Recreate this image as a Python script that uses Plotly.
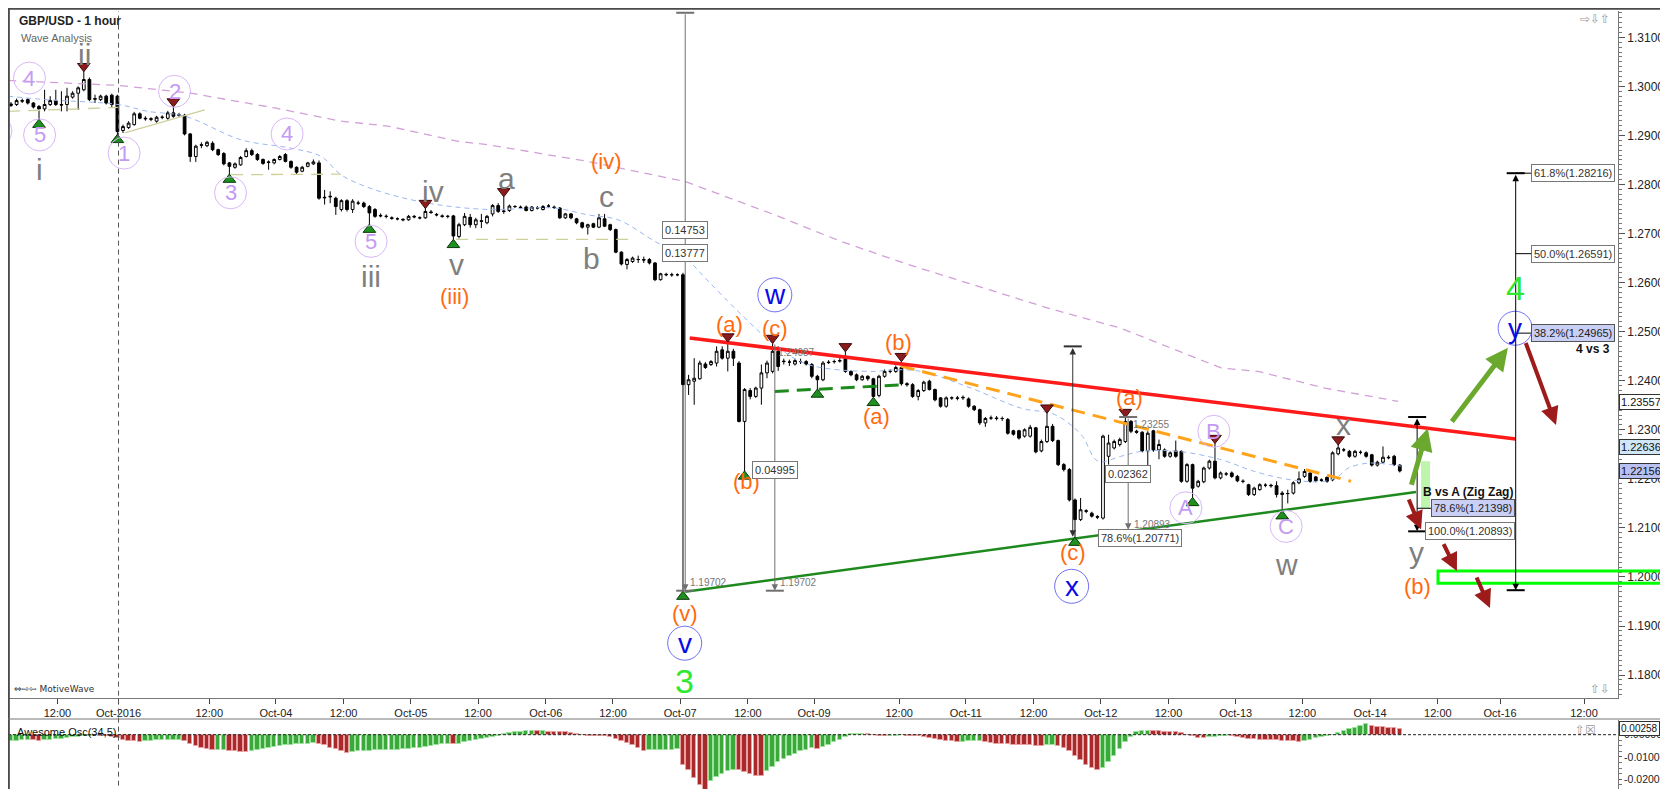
import plotly.graph_objects as go

# ---- hourly candles, bar index 0 = first visible bar ----
opens = [
    1.2961, 1.2963, 1.2971, 1.2973, 1.2966, 1.2959, 1.2954, 1.2963, 1.2971, 1.2963,
    1.2963, 1.2978, 1.2986, 1.2993, 1.3014, 1.2975, 1.2973, 1.2980, 1.2982, 1.2980,
    1.2910, 1.2916, 1.2922, 1.2944, 1.2935, 1.2934, 1.2929, 1.2937, 1.2935, 1.2946,
    1.2942, 1.2941, 1.2903, 1.2857, 1.2881, 1.2879, 1.2884, 1.2871, 1.2863, 1.2844,
    1.2835, 1.2840, 1.2857, 1.2869, 1.2861, 1.2851, 1.2846, 1.2844, 1.2851, 1.2861,
    1.2847, 1.2835, 1.2827, 1.2837, 1.2842, 1.2844, 1.2774, 1.2776, 1.2772, 1.2749,
    1.2767, 1.2749, 1.2762, 1.2762, 1.2755, 1.2749, 1.2737, 1.2735, 1.2732, 1.2730,
    1.2729, 1.2728, 1.2735, 1.2732, 1.2732, 1.2744, 1.2739, 1.2736, 1.2735, 1.2736,
    1.2694, 1.2718, 1.2733, 1.2718, 1.2726, 1.2722, 1.2740, 1.2757, 1.2746, 1.2747,
    1.2755, 1.2754, 1.2754, 1.2747, 1.2752, 1.2749, 1.2756, 1.2754, 1.2752, 1.2732,
    1.2740, 1.2730, 1.2722, 1.2713, 1.2720, 1.2713, 1.2730, 1.2718, 1.2708, 1.2662,
    1.2637, 1.2643, 1.2647, 1.2647, 1.2647, 1.2640, 1.2606, 1.2617, 1.2616, 1.2616,
    1.2616, 1.2392, 1.2399, 1.2404, 1.2434, 1.2433, 1.2436, 1.2463, 1.2446, 1.2460,
    1.2436, 1.2317, 1.2380, 1.2368, 1.2385, 1.2416, 1.2419, 1.2460, 1.2440, 1.2438,
    1.2434, 1.2439, 1.2439, 1.2433, 1.2409, 1.2402, 1.2438, 1.2439, 1.2440, 1.2446,
    1.2419, 1.2412, 1.2402, 1.2409, 1.2404, 1.2370, 1.2409, 1.2419, 1.2419, 1.2427,
    1.2394, 1.2392, 1.2368, 1.2380, 1.2399, 1.2382, 1.2365, 1.2348, 1.2365, 1.2365,
    1.2365, 1.2363, 1.2348, 1.2341, 1.2314, 1.2324, 1.2324, 1.2323, 1.2321, 1.2298,
    1.2298, 1.2287, 1.2287, 1.2304, 1.2257, 1.2276, 1.2307, 1.2278, 1.2229, 1.2219,
    1.2157, 1.2117, 1.2135, 1.2130, 1.2123, 1.2120, 1.2246, 1.2263, 1.2270, 1.2276,
    1.2317, 1.2297, 1.2295, 1.2257, 1.2298, 1.2259, 1.2259, 1.2246, 1.2257, 1.2256,
    1.2195, 1.2229, 1.2185, 1.2194, 1.2222, 1.2236, 1.2202, 1.2210, 1.2212, 1.2205,
    1.2195, 1.2188, 1.2168, 1.2178, 1.2187, 1.2187, 1.2186, 1.2168, 1.2170, 1.2171,
    1.2192, 1.2205, 1.2212, 1.2204, 1.2198, 1.2203, 1.2198, 1.2251, 1.2259, 1.2256,
    1.2246, 1.2254, 1.2253, 1.2249, 1.2228, 1.2234, 1.2244, 1.2246, 1.2228,
]
highs = [
    1.2968, 1.2975, 1.2975, 1.2976, 1.2968, 1.2962, 1.2993, 1.2980, 1.2993, 1.2990,
    1.2997, 1.2990, 1.3000, 1.3031, 1.3018, 1.2983, 1.2983, 1.2983, 1.2985, 1.2983,
    1.2922, 1.2929, 1.2948, 1.2947, 1.2939, 1.2937, 1.2940, 1.2941, 1.2950, 1.2959,
    1.2946, 1.2944, 1.2905, 1.2881, 1.2886, 1.2889, 1.2888, 1.2873, 1.2866, 1.2846,
    1.2845, 1.2858, 1.2874, 1.2873, 1.2864, 1.2853, 1.2849, 1.2853, 1.2860, 1.2864,
    1.2849, 1.2837, 1.2838, 1.2846, 1.2851, 1.2849, 1.2789, 1.2786, 1.2775, 1.2770,
    1.2770, 1.2770, 1.2767, 1.2765, 1.2758, 1.2752, 1.2741, 1.2739, 1.2735, 1.2733,
    1.2731, 1.2738, 1.2738, 1.2735, 1.2752, 1.2748, 1.2742, 1.2739, 1.2738, 1.2738,
    1.2722, 1.2742, 1.2740, 1.2732, 1.2740, 1.2738, 1.2760, 1.2762, 1.2776, 1.2759,
    1.2758, 1.2757, 1.2757, 1.2756, 1.2756, 1.2758, 1.2760, 1.2757, 1.2754, 1.2742,
    1.2742, 1.2732, 1.2724, 1.2720, 1.2722, 1.2740, 1.2740, 1.2720, 1.2710, 1.2664,
    1.2650, 1.2653, 1.2655, 1.2653, 1.2650, 1.2642, 1.2620, 1.2620, 1.2620, 1.2619,
    1.2620, 1.2412, 1.2446, 1.2441, 1.2438, 1.2442, 1.2470, 1.2470, 1.2480, 1.2465,
    1.2440, 1.2385, 1.2385, 1.2388, 1.2433, 1.2441, 1.2477, 1.2470, 1.2445, 1.2443,
    1.2445, 1.2445, 1.2442, 1.2436, 1.2412, 1.2440, 1.2442, 1.2443, 1.2446, 1.2460,
    1.2421, 1.2415, 1.2412, 1.2411, 1.2406, 1.2412, 1.2423, 1.2423, 1.2431, 1.2440,
    1.2397, 1.2395, 1.2383, 1.2400, 1.2402, 1.2384, 1.2367, 1.2368, 1.2368, 1.2369,
    1.2370, 1.2366, 1.2350, 1.2343, 1.2326, 1.2329, 1.2328, 1.2327, 1.2324, 1.2300,
    1.2300, 1.2303, 1.2310, 1.2306, 1.2280, 1.2335, 1.2312, 1.2280, 1.2232, 1.2222,
    1.2160, 1.2161, 1.2138, 1.2133, 1.2126, 1.2290, 1.2290, 1.2280, 1.2284, 1.2326,
    1.2320, 1.2300, 1.2297, 1.2297, 1.2300, 1.2280, 1.2262, 1.2256, 1.2278, 1.2258,
    1.2232, 1.2231, 1.2198, 1.2225, 1.2239, 1.2273, 1.2215, 1.2214, 1.2215, 1.2208,
    1.2199, 1.2190, 1.2184, 1.2191, 1.2191, 1.2190, 1.2195, 1.2175, 1.2178, 1.2195,
    1.2215, 1.2220, 1.2215, 1.2206, 1.2201, 1.2205, 1.2256, 1.2270, 1.2263, 1.2259,
    1.2259, 1.2258, 1.2256, 1.2251, 1.2237, 1.2266, 1.2248, 1.2249, 1.2230,
]
lows = [
    1.2958, 1.2960, 1.2966, 1.2963, 1.2955, 1.2932, 1.2949, 1.2960, 1.2960, 1.2949,
    1.2949, 1.2975, 1.2952, 1.2990, 1.2970, 1.2966, 1.2970, 1.2963, 1.2956, 1.2901,
    1.2905, 1.2913, 1.2920, 1.2933, 1.2930, 1.2929, 1.2926, 1.2933, 1.2932, 1.2936,
    1.2938, 1.2900, 1.2846, 1.2846, 1.2874, 1.2876, 1.2868, 1.2858, 1.2839, 1.2820,
    1.2832, 1.2838, 1.2855, 1.2858, 1.2848, 1.2840, 1.2830, 1.2841, 1.2849, 1.2845,
    1.2832, 1.2820, 1.2825, 1.2835, 1.2840, 1.2769, 1.2759, 1.2762, 1.2738, 1.2745,
    1.2745, 1.2742, 1.2758, 1.2752, 1.2718, 1.2732, 1.2733, 1.2731, 1.2728, 1.2727,
    1.2725, 1.2726, 1.2731, 1.2729, 1.2730, 1.2740, 1.2735, 1.2732, 1.2731, 1.2687,
    1.2690, 1.2715, 1.2712, 1.2711, 1.2711, 1.2719, 1.2735, 1.2742, 1.2740, 1.2744,
    1.2752, 1.2750, 1.2745, 1.2745, 1.2749, 1.2747, 1.2752, 1.2750, 1.2730, 1.2730,
    1.2729, 1.2719, 1.2710, 1.2698, 1.2711, 1.2711, 1.2713, 1.2705, 1.2660, 1.2635,
    1.2627, 1.2640, 1.2640, 1.2640, 1.2637, 1.2603, 1.2604, 1.2613, 1.2612, 1.2613,
    1.1970, 1.2371, 1.2351, 1.2402, 1.2424, 1.2430, 1.2429, 1.2443, 1.2419, 1.2430,
    1.2315, 1.2215, 1.2362, 1.2365, 1.2351, 1.2405, 1.2415, 1.2420, 1.2433, 1.2430,
    1.2431, 1.2434, 1.2431, 1.2405, 1.2382, 1.2399, 1.2434, 1.2435, 1.2437, 1.2416,
    1.2409, 1.2399, 1.2400, 1.2400, 1.2365, 1.2366, 1.2406, 1.2415, 1.2416, 1.2390,
    1.2388, 1.2365, 1.2360, 1.2377, 1.2380, 1.2358, 1.2345, 1.2345, 1.2361, 1.2360,
    1.2361, 1.2345, 1.2338, 1.2310, 1.2306, 1.2320, 1.2319, 1.2318, 1.2290, 1.2288,
    1.2280, 1.2284, 1.2284, 1.2252, 1.2254, 1.2273, 1.2275, 1.2226, 1.2215, 1.2154,
    1.2080, 1.2114, 1.2130, 1.2121, 1.2118, 1.2117, 1.2229, 1.2260, 1.2266, 1.2273,
    1.2293, 1.2292, 1.2254, 1.2228, 1.2255, 1.2240, 1.2243, 1.2243, 1.2243, 1.2192,
    1.2192, 1.2161, 1.2182, 1.2191, 1.2219, 1.2199, 1.2199, 1.2206, 1.2202, 1.2193,
    1.2191, 1.2165, 1.2165, 1.2176, 1.2183, 1.2182, 1.2162, 1.2134, 1.2150, 1.2168,
    1.2189, 1.2202, 1.2192, 1.2193, 1.2194, 1.2192, 1.2195, 1.2248, 1.2255, 1.2243,
    1.2243, 1.2250, 1.2243, 1.2225, 1.2225, 1.2231, 1.2240, 1.2226, 1.2213,
]
closes = [
    1.2964, 1.2971, 1.2970, 1.2966, 1.2958, 1.2954, 1.2963, 1.2971, 1.2963, 1.2962,
    1.2980, 1.2986, 1.2997, 1.3014, 1.2973, 1.2974, 1.2980, 1.2966, 1.2963, 1.2908,
    1.2918, 1.2925, 1.2944, 1.2935, 1.2934, 1.2933, 1.2937, 1.2937, 1.2946, 1.2939,
    1.2941, 1.2903, 1.2857, 1.2878, 1.2880, 1.2886, 1.2871, 1.2861, 1.2842, 1.2837,
    1.2842, 1.2855, 1.2869, 1.2861, 1.2851, 1.2843, 1.2845, 1.2851, 1.2857, 1.2847,
    1.2835, 1.2825, 1.2835, 1.2844, 1.2846, 1.2772, 1.2773, 1.2775, 1.2755, 1.2767,
    1.2749, 1.2766, 1.2762, 1.2755, 1.2742, 1.2735, 1.2736, 1.2735, 1.2731, 1.2730,
    1.2728, 1.2735, 1.2734, 1.2732, 1.2745, 1.2743, 1.2738, 1.2735, 1.2735, 1.2695,
    1.2718, 1.2735, 1.2718, 1.2728, 1.2725, 1.2735, 1.2757, 1.2745, 1.2745, 1.2756,
    1.2755, 1.2753, 1.2747, 1.2754, 1.2752, 1.2755, 1.2756, 1.2753, 1.2732, 1.2740,
    1.2732, 1.2722, 1.2713, 1.2718, 1.2713, 1.2732, 1.2715, 1.2708, 1.2662, 1.2638,
    1.2647, 1.2650, 1.2647, 1.2646, 1.2640, 1.2606, 1.2618, 1.2616, 1.2616, 1.2616,
    1.2392, 1.2402, 1.2405, 1.2436, 1.2427, 1.2439, 1.2460, 1.2446, 1.2460, 1.2446,
    1.2317, 1.2382, 1.2368, 1.2385, 1.2416, 1.2436, 1.2460, 1.2429, 1.2439, 1.2438,
    1.2441, 1.2439, 1.2434, 1.2409, 1.2402, 1.2436, 1.2437, 1.2439, 1.2441, 1.2419,
    1.2412, 1.2402, 1.2409, 1.2404, 1.2368, 1.2409, 1.2419, 1.2419, 1.2427, 1.2394,
    1.2392, 1.2368, 1.2380, 1.2397, 1.2382, 1.2361, 1.2348, 1.2365, 1.2365, 1.2364,
    1.2366, 1.2348, 1.2341, 1.2314, 1.2323, 1.2324, 1.2323, 1.2323, 1.2293, 1.2291,
    1.2283, 1.2300, 1.2305, 1.2255, 1.2276, 1.2307, 1.2278, 1.2229, 1.2219, 1.2157,
    1.2117, 1.2137, 1.2134, 1.2124, 1.2122, 1.2287, 1.2273, 1.2276, 1.2280, 1.2317,
    1.2297, 1.2295, 1.2257, 1.2293, 1.2259, 1.2270, 1.2246, 1.2253, 1.2246, 1.2195,
    1.2229, 1.2181, 1.2195, 1.2222, 1.2236, 1.2202, 1.2212, 1.2210, 1.2205, 1.2196,
    1.2195, 1.2168, 1.2181, 1.2188, 1.2187, 1.2186, 1.2168, 1.2171, 1.2170, 1.2192,
    1.2200, 1.2215, 1.2195, 1.2196, 1.2197, 1.2195, 1.2253, 1.2263, 1.2259, 1.2246,
    1.2256, 1.2254, 1.2246, 1.2228, 1.2234, 1.2244, 1.2243, 1.2229, 1.2216,
]

# Awesome Oscillator (34,5)
ao = [
    -0.0030, -0.0028, -0.0026, -0.0024, -0.0025, -0.0027, -0.0025, -0.0022, -0.0020, -0.0018,
    -0.0015, -0.0012, -0.0010, -0.0007, -0.0005, -0.0003, -0.0004, -0.0006, -0.0010, -0.0015,
    -0.0022, -0.0027, -0.0030, -0.0031, -0.0029, -0.0028, -0.0026, -0.0024, -0.0023, -0.0022,
    -0.0022, -0.0028, -0.0040, -0.0052, -0.0060, -0.0066, -0.0070, -0.0068, -0.0067, -0.0072,
    -0.0075, -0.0077, -0.0078, -0.0075, -0.0071, -0.0066, -0.0060, -0.0055, -0.0050, -0.0047,
    -0.0045, -0.0043, -0.0042, -0.0040, -0.0039, -0.0042, -0.0048, -0.0058, -0.0066, -0.0074,
    -0.0082, -0.0078, -0.0075, -0.0073, -0.0072, -0.0071, -0.0070, -0.0069, -0.0068, -0.0067,
    -0.0066, -0.0064, -0.0062, -0.0058, -0.0055, -0.0050, -0.0046, -0.0043, -0.0040, -0.0042,
    -0.0040, -0.0035, -0.0030, -0.0025, -0.0020, -0.0015, -0.0010, -0.0006, 0.0003, 0.0007,
    0.0010, 0.0013, 0.0015, 0.0016, 0.0015, 0.0015, 0.0014, 0.0013, 0.0012, 0.0010,
    0.0007, 0.0003, -0.0003, -0.0005, -0.0006, -0.0007, -0.0008, -0.0012, -0.0020, -0.0030,
    -0.0038, -0.0048, -0.0058, -0.0072, -0.0071, -0.0070, -0.0069, -0.0068, -0.0067, -0.0066,
    -0.0135, -0.0158, -0.0195, -0.0225, -0.0252, -0.0210, -0.0190, -0.0175, -0.0165, -0.0158,
    -0.0160, -0.0166, -0.0175, -0.0184, -0.0187, -0.0165, -0.0145, -0.0125, -0.0110, -0.0095,
    -0.0085, -0.0075, -0.0068, -0.0062, -0.0064, -0.0055, -0.0045, -0.0035, -0.0022, -0.0010,
    0.0002, 0.0004, 0.0005, 0.0003, -0.0003, -0.0006, -0.0007, -0.0005, -0.0004, -0.0003,
    -0.0004, -0.0005, -0.0008, -0.0012, -0.0016, -0.0020, -0.0024, -0.0027, -0.0030, -0.0032,
    -0.0031, -0.0030, -0.0029, -0.0028, -0.0032, -0.0036, -0.0040, -0.0042, -0.0044, -0.0045,
    -0.0046, -0.0047, -0.0048, -0.0049, -0.0050, -0.0047, -0.0046, -0.0052, -0.0060, -0.0075,
    -0.0095, -0.0115, -0.0135, -0.0150, -0.0158, -0.0150, -0.0125, -0.0095, -0.0065, -0.0035,
    -0.0010, 0.0010, 0.0015, 0.0018, 0.0017, 0.0015, 0.0013, 0.0012, 0.0011, 0.0009,
    -0.0003, -0.0008, -0.0013, -0.0016, -0.0012, -0.0009, -0.0007, -0.0006, -0.0008, -0.0012,
    -0.0015, -0.0018, -0.0020, -0.0022, -0.0024, -0.0025, -0.0026, -0.0027, -0.0028, -0.0030,
    -0.0032, -0.0027, -0.0022, -0.0016, -0.0010, -0.0005, -0.0001, 0.0008, 0.0016, 0.0024,
    0.0032, 0.0040, 0.0046, 0.0040, 0.0036, 0.0033, 0.0030, 0.0028, 0.0026,
]

tick_pos = [8.3, 19.2, 35.4, 47.3, 59.4, 71.4, 83.4, 95.5, 107.5, 119.5, 131.6, 143.4,
            158.6, 170.5, 182.6, 194.6, 206.7, 218.7, 230.6, 242.7, 254.8, 265.9, 280.9]
tick_text = ["12:00", "Oct-2016", "12:00", "Oct-04", "12:00", "Oct-05", "12:00", "Oct-06",
             "12:00", "Oct-07", "12:00", "Oct-09", "12:00", "Oct-11", "12:00", "Oct-12",
             "12:00", "Oct-13", "12:00", "Oct-14", "12:00", "Oct-16", "12:00"]
price_ticks = [1.18, 1.19, 1.20, 1.21, 1.22, 1.23, 1.24, 1.25, 1.26, 1.27, 1.28, 1.29, 1.30, 1.31]
ao_ticks = [0, -0.01, -0.02]
ao_tick_text = ["0.00000", "-0.01000", "-0.02000"]

# moving averages
ma_fast_x = [-0.5, 6.1, 19.1, 24.5, 31.1, 41.1, 50.0, 55.4, 58.9, 65.0, 74.5, 85.2, 97.1, 103.0,
             108.4, 115.0, 120.4, 124.5, 130.4, 136.4, 142.3, 154.3, 156.6, 162.5, 171.4, 180.4,
             186.4, 191.1, 194.1, 198.2, 201.8, 208.4, 216.1, 222.1, 228.6, 234.6, 237.0, 238.8,
             242.3, 246.4, 248.2]
ma_fast_y = [1.2980, 1.2973, 1.2963, 1.2949, 1.2939, 1.2891, 1.2874, 1.2857, 1.2820, 1.2789,
             1.2762, 1.2749, 1.2752, 1.2738, 1.2728, 1.2684, 1.2650, 1.2603, 1.2535, 1.2473,
             1.2433, 1.2419, 1.2422, 1.2419, 1.2385, 1.2344, 1.2331, 1.2290, 1.2236, 1.2246,
             1.2256, 1.2256, 1.2239, 1.2215, 1.2198, 1.2195, 1.2205, 1.2222, 1.2232, 1.2229,
             1.2226]
ma_slow_x = [-0.5, 19.1, 32.1, 47.1, 58.9, 67.3, 79.8, 85.2, 103.0, 120.4, 136.4, 148.2, 160.2,
             185.2, 198.2, 216.1, 222.7, 234.6, 247.7]
ma_slow_y = [1.3012, 1.3002, 1.2986, 1.2956, 1.2929, 1.2919, 1.2888, 1.2881, 1.2847, 1.2806,
             1.2738, 1.2684, 1.2637, 1.2548, 1.2507, 1.2426, 1.2419, 1.2385, 1.2358]

# trend lines (bar, price)
red_x, red_y = [121.2, 268.7], [1.2487, 1.2281]
green_x, green_y = [120.4, 250.9], [1.1970, 1.2173]
gdash_x, gdash_y = [136.4, 159.6], [1.2378, 1.2392]
orange_x, orange_y = [158.9, 239.3], [1.2430, 1.2195]
tan_lines = [([-0.5, 19.1], [1.2949, 1.2957], "dash"),
             ([20.3, 34.6], [1.2905, 1.2952], "solid"),
             ([39.3, 58.9], [1.2820, 1.2821], "dash"),
             ([79.5, 111.1], [1.2688, 1.2688], "dash")]

# swing markers
top_bars = [13, 29, 74, 88, 128, 136, 149, 159, 185, 199, 215, 237]
bottom_bars = [5, 19, 39, 64, 79, 120, 131, 144, 154, 190, 211, 227]

# measuring lines: bar, top, bottom, colour, heads, end bars
measures = [(120.4, 1.3150, 1.1972, "#707070", "end", "both"),
            (136.4, 1.2477, 1.1972, "#707070", "end", "bottom"),
            (189.6, 1.2470, 1.2082, "#303030", "end+start", "top"),
            (199.5, 1.2326, 1.2096, "#707070", "end", "top"),
            (251.1, 1.2326, 1.2093, "#000000", "end+start", "both"),
            (268.7, 1.2823, 1.1973, "#000000", "end+start", "both")]

# projection arrows (from bar, from price, to bar, to price)
green_arrows = [(250.0, 1.2185, 253.0, 1.2303), (257.1, 1.2314, 267.3, 1.2467)]
red_arrows = [(270.4, 1.2480, 275.9, 1.2310), (249.5, 1.2161, 251.8, 1.2097),
              (255.7, 1.2070, 258.2, 1.2012), (261.6, 1.2002, 264.1, 1.1937)]

# wave labels: text, bar, price, style
wave_labels = [
    ("4", 3.3, 1.3017, "circ"), ("5", 5.1, 1.2901, "circ"), ("1", 20.2, 1.2864, "circ"),
    ("2", 29.2, 1.2990, "circ"), ("3", 39.2, 1.2783, "circ"), ("4", 49.3, 1.2903, "circ"),
    ("5", 64.3, 1.2684, "circ"), ("A", 209.8, 1.2141, "circ"), ("B", 214.8, 1.2297, "circ"),
    ("C", 227.7, 1.2103, "circ"),
    ("i", 5.1, 1.2830, "grey"), ("ii", 13.2, 1.3065, "grey"), ("iii", 64.3, 1.2613, "grey"),
    ("iv", 75.4, 1.2786, "grey"), ("v", 79.5, 1.2637, "grey"), ("a", 88.4, 1.2813, "grey"),
    ("b", 103.6, 1.2650, "grey"), ("c", 106.3, 1.2776, "grey"), ("x", 237.9, 1.2310, "grey"),
    ("w", 227.7, 1.2025, "grey"), ("y", 251.0, 1.2049, "grey"),
    ("(iii)", 79.2, 1.2572, "orange"), ("(iv)", 106.3, 1.2847, "orange"),
    ("(a)", 128.3, 1.2514, "orange"), ("(c)", 136.4, 1.2507, "orange"),
    ("(b)", 158.4, 1.2477, "orange"), ("(a)", 154.5, 1.2327, "orange"),
    ("(b)", 131.3, 1.2195, "orange"), ("(a)", 199.8, 1.2365, "orange"),
    ("(c)", 189.6, 1.2049, "orange"), ("(b)", 251.1, 1.1981, "orange"),
    ("(v)", 120.3, 1.1926, "orange"),
    ("w", 136.4, 1.2575, "bcirc"), ("x", 189.4, 1.1981, "bcirc"), ("y", 268.6, 1.2507, "bcirc"),
    ("v", 120.3, 1.1865, "bcirc"),
    ("3", 120.3, 1.1787, "green"), ("4", 268.6, 1.2589, "green"),
]

# value boxes / notes: text, bar, price, kind
notes = [
    ("0.14753", 120.4, 1.2708, "box"), ("0.13777", 120.4, 1.2660, "box"),
    ("0.04995", 136.4, 1.2219, "box"), ("0.02362", 199.5, 1.2210, "box"),
    ("78.6%(1.20771)", 201.6, 1.2080, "box"),
    ("1.19702", 124.5, 1.1988, "small"), ("1.19702", 140.7, 1.1988, "small"),
    ("1.23255", 203.7, 1.2310, "small"), ("1.20893", 203.9, 1.2107, "small"),
    ("1.24087", 140.3, 1.2457, "small"),
    ("B vs A (Zig Zag)", 260.2, 1.2173, "bold"),
    ("78.6%(1.21398)", 261.0, 1.2141, "bluebox"), ("100.0%(1.20893)", 260.5, 1.2093, "box"),
    ("61.8%(1.28216)", 278.9, 1.2823, "box"), ("50.0%(1.26591)", 278.9, 1.2659, "box"),
    ("38.2%(1.24965)", 278.9, 1.2497, "bluebox"), ("4 vs 3", 282.5, 1.2465, "bold"),
]
price_tags = [("1.23557", 1.2356, "white"), ("1.22636", 1.2264, "#cfe6f7"),
              ("1.22156", 1.2216, "#b9c1f3")]
ao_last = 0.00258

FONT = "Liberation Sans"
XR = [-0.536, 286.96]
XD = [0, 0.9652]
bars = list(range(len(closes)))

fig = go.Figure()

fig.add_trace(go.Scatter(x=ma_slow_x, y=ma_slow_y, mode="lines",
                         line=dict(color="#d2a0d8", width=1.3, dash="8px,6px"), hoverinfo="skip"))
fig.add_trace(go.Scatter(x=ma_fast_x, y=ma_fast_y, mode="lines", line_shape="spline",
                         line=dict(color="#9bb8f2", width=1, dash="5px,4px"), hoverinfo="skip"))
for lx, ly, ds in tan_lines:
    fig.add_trace(go.Scatter(x=lx, y=ly, mode="lines", hoverinfo="skip",
                             line=dict(color="#cfcf9c", width=1.3,
                                       dash="12px,8px" if ds == "dash" else "solid")))

fig.add_trace(go.Candlestick(
    x=bars, open=opens, high=highs, low=lows, close=closes,
    increasing=dict(line=dict(color="black", width=1), fillcolor="white"),
    decreasing=dict(line=dict(color="black", width=1), fillcolor="black"),
    whiskerwidth=0, hoverinfo="skip"))

fig.add_trace(go.Scatter(x=gdash_x, y=gdash_y, mode="lines",
                         line=dict(color="#1e8a1e", width=3, dash="14px,8px"), hoverinfo="skip"))
fig.add_trace(go.Scatter(x=orange_x, y=orange_y, mode="lines",
                         line=dict(color="#ffa31a", width=3, dash="14px,8px"), hoverinfo="skip"))
fig.add_trace(go.Scatter(x=green_x, y=green_y, mode="lines",
                         line=dict(color="#1e8a1e", width=2.5), hoverinfo="skip"))
fig.add_trace(go.Scatter(x=red_x, y=red_y, mode="lines",
                         line=dict(color="#ff1a1a", width=3.5), hoverinfo="skip"))

fig.add_trace(go.Scatter(x=top_bars, y=[highs[i] + 0.0010 for i in top_bars], mode="markers",
                         marker=dict(symbol="triangle-down", size=11, color="#8c1c1c",
                                     line=dict(color="#3a0a0a", width=1)), hoverinfo="skip"))
fig.add_trace(go.Scatter(x=bottom_bars, y=[lows[i] - 0.0010 for i in bottom_bars], mode="markers",
                         marker=dict(symbol="triangle-up", size=11, color="#1f8f1f",
                                     line=dict(color="#0a3a0a", width=1)), hoverinfo="skip"))

ao_fill = []
ao_edge = []
for i, v in enumerate(ao):
    up = i == 0 or v >= ao[i - 1]
    ao_fill.append("#3aa83a" if up else "#a82a2a")
    ao_edge.append("#9be39b" if up else "#eaa0a0")
fig.add_trace(go.Bar(x=bars, y=ao, width=0.8, marker=dict(color=ao_fill, line=dict(color=ao_edge, width=1)),
                     xaxis="x2", yaxis="y2", hoverinfo="skip"))

shapes = []
annotations = []

# Oct-2016 session divider
shapes.append(dict(type="line", xref="x", yref="paper", x0=19.2, x1=19.2, y0=0.003, y1=0.996,
                   line=dict(color="#555", width=1, dash="5px,4px")))
# AO zero line
shapes.append(dict(type="line", xref="paper", yref="y2", x0=0, x1=XD[1], y0=0, y1=0,
                   line=dict(color="#222", width=1, dash="3px,2px")))

# measuring lines
for bx, top, bot, col, heads, ends in measures:
    annotations.append(dict(x=bx, y=bot, ax=bx, ay=top, xref="x", yref="y", axref="x", ayref="y",
                            text="", showarrow=True, arrowhead=2, arrowsize=1.3, arrowwidth=1,
                            arrowcolor=col, arrowside=heads, standoff=0, startstandoff=0))
    if ends in ("both", "top"):
        shapes.append(dict(type="line", xref="x", yref="y", xsizemode="pixel", xanchor=bx,
                           x0=-9, x1=9, y0=top, y1=top, line=dict(color=col, width=2)))
    if ends in ("both", "bottom"):
        shapes.append(dict(type="line", xref="x", yref="y", xsizemode="pixel", xanchor=bx,
                           x0=-9, x1=9, y0=bot, y1=bot, line=dict(color=col, width=2)))
# leader ticks to fib labels
for bx, lvl, x_end in [(251.1, 1.2140, 254.3), (268.7, 1.2823, 272.3), (268.7, 1.2659, 272.3),
                       (268.7, 1.2497, 272.3)]:
    shapes.append(dict(type="line", xref="x", yref="y", x0=bx, x1=x_end, y0=lvl, y1=lvl,
                       line=dict(color="#000", width=1)))

# target zones
shapes.append(dict(type="rect", xref="x", yref="y", x0=251.8, x1=253.4, y0=1.2140, y1=1.2236,
                   fillcolor="#bdf5ad", line=dict(width=0), layer="below"))
shapes.append(dict(type="rect", xref="paper", yref="y", x0=1430 / 1668, x1=1661 / 1668,
                   y0=1.1987, y1=1.2012, line=dict(color="#00ff00", width=3)))

for x0, y0, x1, y1 in green_arrows:
    annotations.append(dict(x=x1, y=y1, ax=x0, ay=y0, xref="x", yref="y", axref="x", ayref="y",
                            text="", showarrow=True, arrowhead=2, arrowsize=0.9, arrowwidth=5,
                            arrowcolor="#6aa82e"))
for x0, y0, x1, y1 in red_arrows:
    annotations.append(dict(x=x1, y=y1, ax=x0, ay=y0, xref="x", yref="y", axref="x", ayref="y",
                            text="", showarrow=True, arrowhead=2, arrowsize=0.9, arrowwidth=4,
                            arrowcolor="#9e1b1b"))

# partly hidden circle at the left edge
shapes.append(dict(type="circle", xref="x", yref="y", xsizemode="pixel", ysizemode="pixel",
                   xanchor=-2.7, yanchor=1.2909, x0=-16, x1=16, y0=-16, y1=16,
                   line=dict(color="#d8b8f8", width=1)))

for txt, bx, py, kind in wave_labels:
    if kind == "circ":
        shapes.append(dict(type="circle", xref="x", yref="y", xsizemode="pixel", ysizemode="pixel",
                           xanchor=bx, yanchor=py, x0=-16, x1=16, y0=-16, y1=16,
                           line=dict(color="#d8b8f8", width=1)))
        font = dict(family=FONT, size=22, color="#c49af2")
    elif kind == "bcirc":
        shapes.append(dict(type="circle", xref="x", yref="y", xsizemode="pixel", ysizemode="pixel",
                           xanchor=bx, yanchor=py, x0=-17, x1=17, y0=-17, y1=17,
                           line=dict(color="#6f6ff5", width=1)))
        font = dict(family=FONT, size=28, color="#0a0ae6")
    elif kind == "grey":
        font = dict(family=FONT, size=30, color="#7f7f7f")
    elif kind == "orange":
        font = dict(family=FONT, size=22, color="#ff6a10")
    else:
        font = dict(family=FONT, size=34, color="#2fe82f")
    annotations.append(dict(x=bx, y=py, xref="x", yref="y", text=txt, showarrow=False,
                            xanchor="center", yanchor="middle", font=font))

for txt, bx, py, kind in notes:
    a = dict(x=bx, y=py, xref="x", yref="y", text=txt, showarrow=False,
             xanchor="center", yanchor="middle")
    if kind == "box":
        a.update(font=dict(family=FONT, size=11, color="#333"), bgcolor="white",
                 bordercolor="#777", borderwidth=1, borderpad=2)
    elif kind == "bluebox":
        a.update(font=dict(family=FONT, size=11, color="#222"), bgcolor="#c9cff5",
                 bordercolor="#555", borderwidth=1, borderpad=2)
    elif kind == "small":
        a.update(font=dict(family=FONT, size=10, color="#777"))
    else:
        a.update(text="<b>" + txt + "</b>", font=dict(family=FONT, size=12, color="#111"))
    annotations.append(a)

for txt, py, bg in price_tags:
    annotations.append(dict(x=1611 / 1668, y=py, xref="paper", yref="y", text=txt, showarrow=False,
                            xanchor="left", yanchor="middle", bgcolor=bg, bordercolor="#333",
                            borderwidth=1, borderpad=1, font=dict(family=FONT, size=11, color="#111")))
annotations.append(dict(x=1611 / 1668, y=ao_last, xref="paper", yref="y2", text=f"{ao_last:.5f}",
                        showarrow=False, xanchor="left", yanchor="middle", bgcolor="white",
                        bordercolor="#333", borderwidth=1, borderpad=1,
                        font=dict(family=FONT, size=10, color="#111")))

# chart furniture
annotations += [
    dict(x=9 / 1668, y=1 - 13 / 789, xref="paper", yref="paper", text="<b>GBP/USD - 1 hour</b>",
         showarrow=False, xanchor="left", yanchor="middle",
         font=dict(family=FONT, size=12, color="#222")),
    dict(x=11 / 1668, y=1 - 30 / 789, xref="paper", yref="paper", text="Wave Analysis",
         showarrow=False, xanchor="left", yanchor="middle",
         font=dict(family=FONT, size=11, color="#666")),
    dict(x=4 / 1668, y=1 - 681 / 789, xref="paper", yref="paper", text="⇔⇨⇦ MotiveWave",
         showarrow=False, xanchor="left", yanchor="middle",
         font=dict(family="DejaVu Sans", size=9, color="#333")),
    dict(x=7 / 1668, y=1 - 724 / 789, xref="paper", yref="paper", text="Awesome Osc(34,5)",
         showarrow=False, xanchor="left", yanchor="middle",
         font=dict(family=FONT, size=11, color="#111")),
    dict(x=1604 / 1668, y=1 - 11 / 789, xref="paper", yref="paper", text="⇨⇩⇧",
         showarrow=False, xanchor="right", yanchor="middle",
         font=dict(family="DejaVu Sans", size=12, color="#999")),
    dict(x=1604 / 1668, y=1 - 681 / 789, xref="paper", yref="paper", text="⇧⇩",
         showarrow=False, xanchor="right", yanchor="middle",
         font=dict(family="DejaVu Sans", size=12, color="#999")),
    dict(x=1590 / 1668, y=1 - 722 / 789, xref="paper", yref="paper", text="⇧☒",
         showarrow=False, xanchor="right", yanchor="middle",
         font=dict(family="DejaVu Sans", size=12, color="#999")),
]

# frame and panel separators
shapes += [
    dict(type="rect", xref="paper", yref="paper", x0=0.0005, x1=0.9985, y0=0.001, y1=0.999,
         line=dict(color="#4a4a4a", width=2)),
    dict(type="line", xref="paper", yref="paper", x0=0, x1=1, y0=1 - 711 / 789, y1=1 - 711 / 789,
         line=dict(color="#777", width=1)),
]

fig.update_layout(
    width=1668, height=789, margin=dict(l=0, r=0, t=0, b=0),
    paper_bgcolor="white", plot_bgcolor="white", showlegend=False, bargap=0,
    shapes=shapes, annotations=annotations,
    xaxis=dict(domain=XD, range=XR, anchor="y", tickvals=tick_pos, ticktext=tick_text,
               ticks="outside", ticklen=5, tickcolor="#444", showgrid=False, zeroline=False,
               showline=True, linecolor="#777", tickfont=dict(family=FONT, size=11, color="#222"),
               rangeslider=dict(visible=False), fixedrange=True),
    yaxis=dict(domain=[1 - 690 / 789, 1 - 3 / 789], range=[1.17533, 1.31536], side="right",
               anchor="x", tickvals=price_ticks, tickformat=".5f", ticks="outside", ticklen=6,
               tickcolor="#555", showgrid=False, zeroline=False, showline=True, linecolor="#777",
               tickfont=dict(family=FONT, size=12, color="#222"),
               minor=dict(dtick=0.001, tick0=1.18, ticks="outside", ticklen=3, tickcolor="#777")),
    xaxis2=dict(domain=XD, range=XR, anchor="y2", showticklabels=False, ticks="",
                showgrid=False, zeroline=False, showline=False),
    yaxis2=dict(domain=[1 - 787 / 789, 1 - 712 / 789], range=[-0.02716, 0.00662], side="right",
                anchor="x2", tickvals=ao_ticks, ticktext=ao_tick_text, ticks="outside",
                ticklen=3, tickcolor="#555", showgrid=False, zeroline=False, showline=True,
                linecolor="#777", tickfont=dict(family=FONT, size=10.5, color="#222"),
                minor=dict(dtick=0.0025, ticks="outside", ticklen=3, tickcolor="#777")),
)

fig.write_html("out.html")
